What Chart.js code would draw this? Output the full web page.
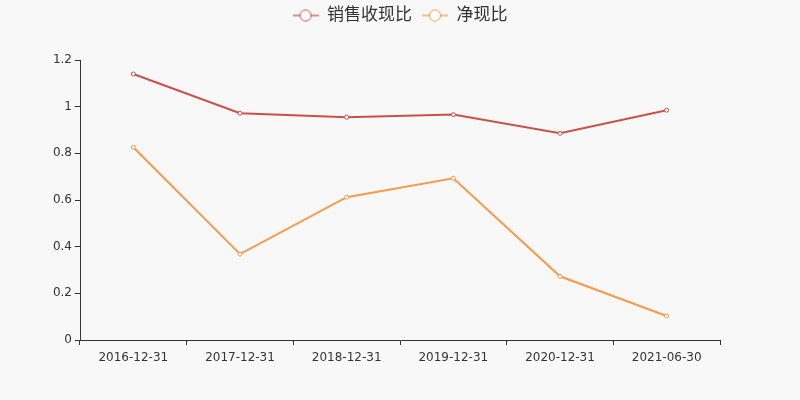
<!DOCTYPE html>
<html>
<head>
<meta charset="utf-8">
<script src="https://cdn.jsdelivr.net/npm/chart.js@4/dist/chart.umd.min.js"></script>
<style>
  html, body { margin: 0; padding: 0; background: #f8f8f8; }
  #wrap { width: 800px; height: 400px; }
</style>
</head>
<body>
<div id="wrap"><canvas id="chart" width="800" height="400"></canvas></div>
<script>
// data
const dates = ['2016-12-31', '2017-12-31', '2018-12-31', '2019-12-31', '2020-12-31', '2021-06-30'];
const salesCashRatio = [1.14, 0.972, 0.955, 0.966, 0.886, 0.985];
const netCashRatio = [0.826, 0.368, 0.612, 0.693, 0.273, 0.103];
const yTicks = [0, 0.2, 0.4, 0.6, 0.8, 1, 1.2];

const RED = '#c9504b';
const ORANGE = '#f79a4a';
const FONT = "'DejaVu Sans', 'Noto Sans CJK SC', sans-serif";

// legend icon: short line with a hollow circle in the middle
function legendIcon(color) {
  const c = document.createElement('canvas');
  c.width = 26;
  c.height = 14;
  const ctx = c.getContext('2d');
  ctx.globalAlpha = 0.85;
  ctx.strokeStyle = color;
  ctx.lineWidth = 1.5;
  ctx.beginPath();
  ctx.moveTo(0, 7);
  ctx.lineTo(26, 7);
  ctx.stroke();
  ctx.beginPath();
  ctx.arc(13, 7, 5.5, 0, Math.PI * 2);
  ctx.fillStyle = '#ffffff';
  ctx.globalAlpha = 1;
  ctx.fill();
  ctx.lineWidth = 1;
  ctx.stroke();
  return c;
}

const fixLegendHeight = {
  id: 'fixLegendHeight',
  beforeInit(chart) {
    const origFit = chart.legend.fit;
    chart.legend.fit = function () {
      origFit.bind(chart.legend)();
      this.height = 63;
    };
  }
};

new Chart(document.getElementById('chart'), {
  type: 'line',
  data: {
    labels: dates,
    datasets: [
      {
        label: '销售收现比',
        data: salesCashRatio,
        borderColor: RED,
        backgroundColor: '#ffffff',
        borderWidth: 2,
        pointRadius: 2,
        pointBorderWidth: 1,
        pointBackgroundColor: '#ffffff',
        tension: 0
      },
      {
        label: '净现比',
        data: netCashRatio,
        borderColor: ORANGE,
        backgroundColor: '#ffffff',
        borderWidth: 2,
        pointRadius: 2,
        pointBorderWidth: 1,
        pointBackgroundColor: '#ffffff',
        tension: 0
      }
    ]
  },
  options: {
    responsive: false,
    animation: false,
    layout: { padding: { top: -3, left: 0, right: 0, bottom: 0 } },
    plugins: {
      tooltip: { enabled: false },
      legend: {
        position: 'top',
        labels: {
          usePointStyle: true,
          pointStyleWidth: 26,
          color: '#333',
          font: { family: FONT, size: 17 },
          padding: 10,
          generateLabels(chart) {
            const items = Chart.defaults.plugins.legend.labels.generateLabels(chart);
            items.forEach((it, i) => {
              it.pointStyle = legendIcon(i === 0 ? RED : ORANGE);
            });
            return items;
          }
        }
      }
    },
    scales: {
      x: {
        offset: true,
        grid: {
          display: true,
          drawOnChartArea: false,
          offset: true,
          tickLength: 5,
          color: '#333'
        },
        border: { color: '#333', width: 1 },
        ticks: { color: '#333', font: { family: FONT, size: 12 }, padding: 6, maxRotation: 0 },
        afterFit(scale) { scale.height = 60; }
      },
      y: {
        min: 0,
        max: 1.2,
        grid: {
          display: true,
          drawOnChartArea: false,
          tickLength: 5,
          color: '#333'
        },
        border: { color: '#333', width: 1 },
        afterBuildTicks(scale) {
          scale.ticks = yTicks.map(v => ({ value: v }));
        },
        ticks: {
          color: '#333',
          font: { family: FONT, size: 12 },
          padding: 3,
          callback: v => String(v)
        },
        afterFit(scale) { scale.width = 80; }
      },
      // empty right-hand axis, only reserves the right margin
      yRight: {
        position: 'right',
        min: 0,
        max: 1.2,
        grid: { display: false },
        border: { display: false },
        ticks: { display: false },
        afterFit(scale) { scale.width = 80; }
      }
    }
  },
  plugins: [fixLegendHeight]
});
</script>
</body>
</html>
